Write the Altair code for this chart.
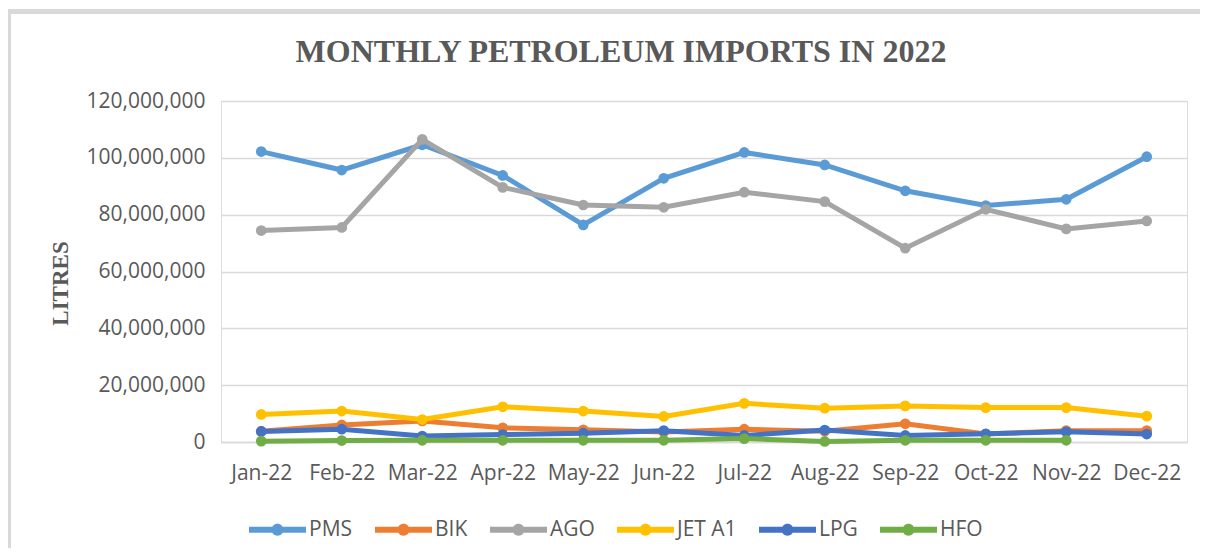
import altair as alt
import pandas as pd

months = ["Jan-22", "Feb-22", "Mar-22", "Apr-22", "May-22", "Jun-22",
          "Jul-22", "Aug-22", "Sep-22", "Oct-22", "Nov-22", "Dec-22"]
series_names = ["PMS", "BIK", "AGO", "JET A1", "LPG", "HFO"]
series_colors = ["#5B9BD5", "#ED7D31", "#A5A5A5", "#FFC000", "#4472C4", "#70AD47"]

pms = [102.2e6, 95.7e6, 104.6e6, 93.8e6, 76.4e6, 92.8e6, 101.9e6, 97.5e6, 88.4e6, 83.2e6, 85.4e6, 100.4e6]
bik = [3.8e6, 6.0e6, 7.4e6, 5.0e6, 4.3e6, 3.5e6, 4.5e6, 3.8e6, 6.4e6, 2.8e6, 4.0e6, 4.0e6]
ago = [74.4e6, 75.5e6, 106.5e6, 89.6e6, 83.4e6, 82.6e6, 87.9e6, 84.6e6, 68.2e6, 81.9e6, 75.0e6, 77.8e6]
jet = [9.7e6, 10.9e6, 7.9e6, 12.4e6, 10.9e6, 9.0e6, 13.6e6, 11.9e6, 12.7e6, 12.1e6, 12.1e6, 9.1e6]
lpg = [3.7e6, 4.5e6, 2.1e6, 2.6e6, 3.1e6, 4.0e6, 2.3e6, 4.2e6, 2.3e6, 2.9e6, 3.6e6, 2.8e6]
hfo = [0.3e6, 0.5e6, 0.6e6, 0.6e6, 0.6e6, 0.6e6, 1.2e6, 0.2e6, 0.6e6, 0.6e6, 0.6e6]  # no Dec value

y_ticks = [0, 20000000, 40000000, 60000000, 80000000, 100000000, 120000000]
title_text = "MONTHLY PETROLEUM IMPORTS IN 2022"

values_by_series = [pms, bik, ago, jet, lpg, hfo]
rows = []
for name, vals in zip(series_names, values_by_series):
    for i, v in enumerate(vals):
        rows.append({"series": name, "month": months[i], "idx": i, "litres": v})
df = pd.DataFrame(rows)

TEXT = "#595959"
GRID = "#D9D9D9"

W, H = 966, 341
PAD_L, PAD_T = 213, 93
TOTAL_W, TOTAL_H = 1192, 540

x_enc = alt.X("month:O", sort=months,
              scale=alt.Scale(type="point", padding=0.5),
              axis=alt.Axis(title=None, labelAngle=0, ticks=False, domain=True,
                            domainColor=GRID, domainWidth=1.5,
                            labelFont="Open Sans", labelFontSize=21,
                            labelColor=TEXT, labelPadding=20, grid=False))
y_enc = alt.Y("litres:Q",
              scale=alt.Scale(domain=[0, 120000000], nice=False),
              axis=alt.Axis(title="LITRES", values=y_ticks,
                            labelExpr="format(datum.value, ',.0f')",
                            ticks=False, domain=False, grid=True,
                            gridColor=GRID, gridWidth=1.5,
                            labelFont="Open Sans", labelFontSize=21,
                            labelColor=TEXT, labelPadding=16,
                            titleFont="Liberation Serif", titleFontSize=23,
                            titleFontWeight="bold", titleColor=TEXT,
                            titleAngle=-90, titleX=-161, titleY=182,
                            titleBaseline="middle", titleAlign="center"))

legend_symbol = ("M-1,-0.105H1V0.105H-1Z "
                 "M-0.21,0A0.21,0.21 0 1,1 0.21,0A0.21,0.21 0 1,1 -0.21,0Z")

color_enc = alt.Color("series:N",
                      scale=alt.Scale(domain=series_names, range=series_colors),
                      legend=alt.Legend(title=None, orient="none", direction="horizontal",
                                        legendX=28, legendY=400,
                                        symbolType=legend_symbol, symbolSize=3249,
                                        symbolStrokeWidth=0, symbolOpacity=1,
                                        labelFont="Open Sans", labelFontSize=21,
                                        labelColor=TEXT, labelOffset=3,
                                        columnPadding=22))

frame = alt.Chart(alt.Data(values=[{}])).mark_rect(
    fillOpacity=0, stroke=GRID, strokeWidth=5
).encode(
    x=alt.value(-PAD_L + 0.5), x2=alt.value(TOTAL_W - PAD_L + 20),
    y=alt.value(-PAD_T + 3.5), y2=alt.value(TOTAL_H - PAD_T + 40)
)

title = alt.Chart(alt.Data(values=[{"t": title_text}])).mark_text(
    font="Liberation Serif", fontSize=32, fontWeight="bold", color=TEXT,
    align="center", baseline="middle"
).encode(text="t:N", x=alt.value(400), y=alt.value(-49))

layers = [frame, title]
for name, col in zip(series_names, series_colors):
    base = alt.Chart(df).transform_filter(alt.datum.series == name)
    line = base.mark_line(strokeWidth=5, color=col).encode(
        x=x_enc, y=y_enc, order="idx:Q")
    pts = base.mark_point(filled=True, size=115, opacity=1, shape="circle").encode(
        x=x_enc, y=y_enc, color=color_enc)
    layers += [line, pts]

chart = alt.layer(*layers).properties(
    width=W, height=H,
    autosize=alt.AutoSizeParams(type="none"),
    padding={"left": PAD_L, "top": PAD_T, "right": TOTAL_W - PAD_L - W,
             "bottom": TOTAL_H - PAD_T - H},
).configure_view(stroke=None).configure(background="white")

chart.save("out.html", embed_options={"renderer": "svg", "actions": False})
